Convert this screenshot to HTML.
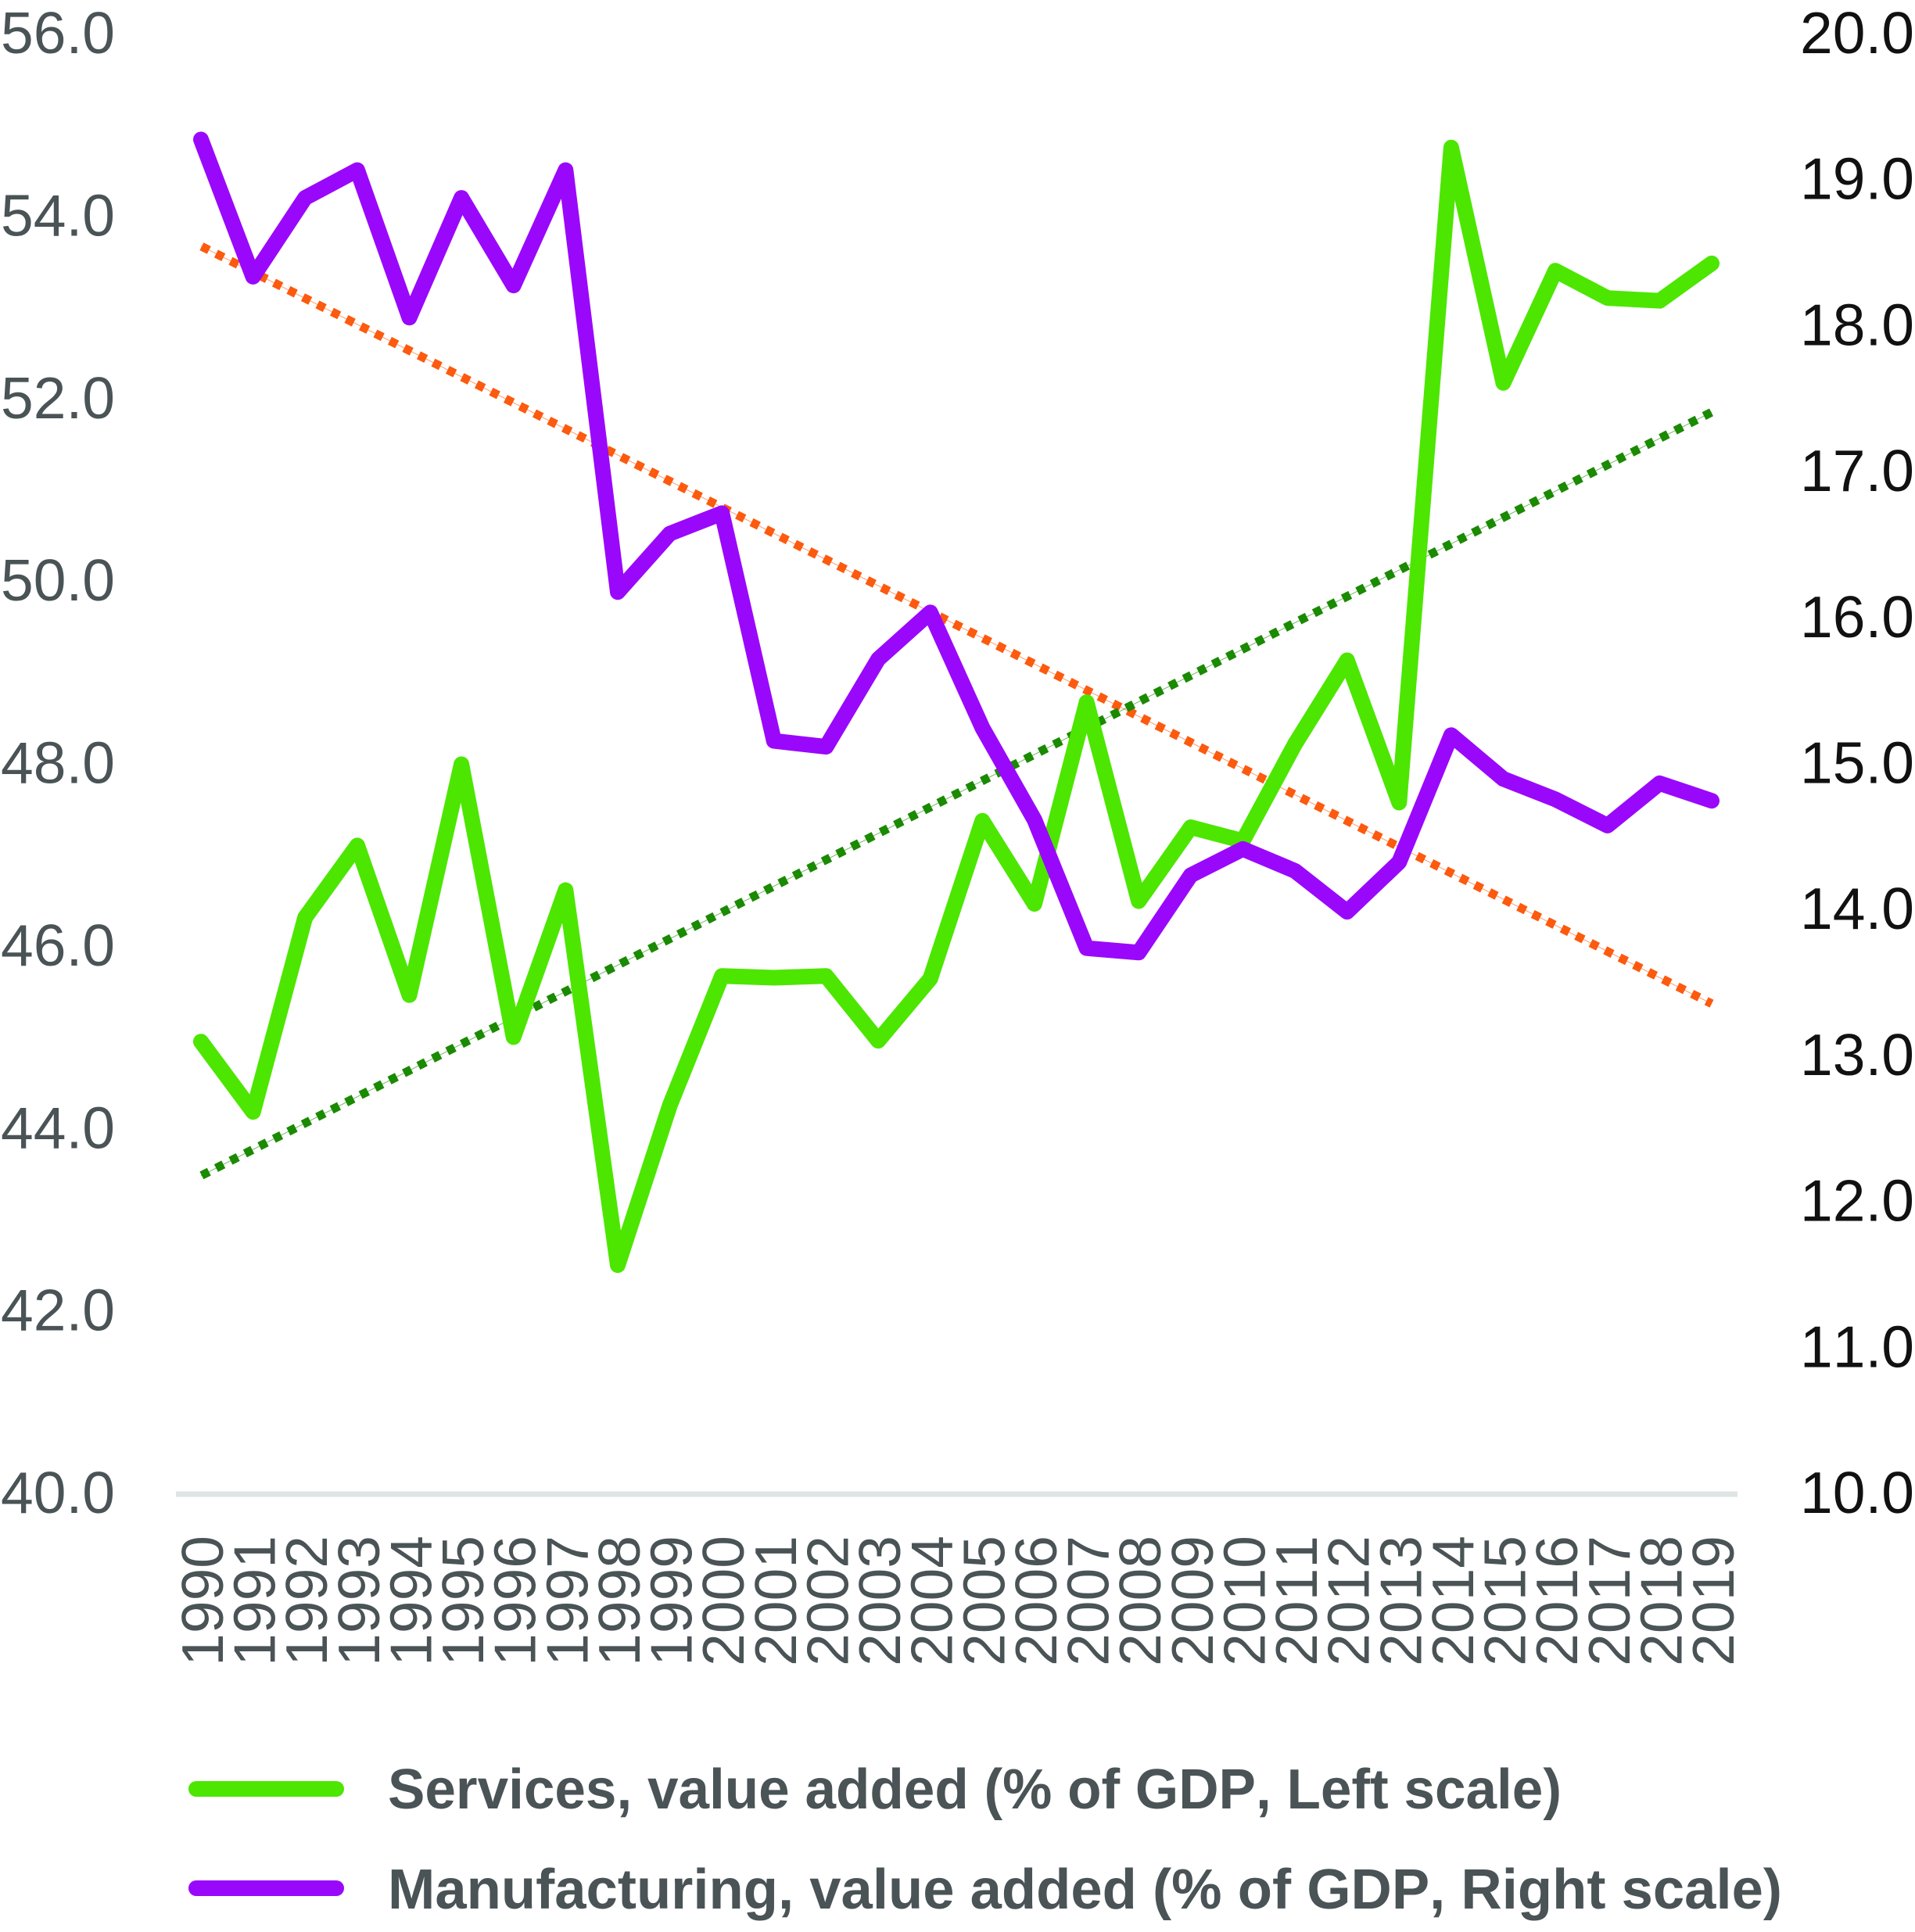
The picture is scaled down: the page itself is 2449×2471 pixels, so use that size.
<!DOCTYPE html>
<html lang="en">
<head>
<meta charset="utf-8">
<title>Services and manufacturing value added</title>
<style>
  html, body { margin: 0; padding: 0; background: #fff; }
  svg { display: block; font-family: "Liberation Sans", sans-serif; font-kerning: none; }
</style>
</head>
<body>
<svg id="chart" xmlns="http://www.w3.org/2000/svg" width="2449" height="2471" viewBox="0 0 2449 2471">
  <rect x="0" y="0" width="2449" height="2471" fill="#ffffff"/>
  <line x1="225" y1="1911" x2="2222" y2="1911" stroke="#dfe5e4" stroke-width="7"/>
  <g id="left-ticks" font-size="75" fill="#4a5356" text-anchor="end"></g>
  <g id="right-ticks" font-size="75" fill="#111111" text-anchor="end"></g>
  <g id="x-ticks" font-size="75" fill="#4a5356" text-anchor="end"></g>
  <g id="marks" fill="none"></g>
  <g>
    <line x1="251" y1="2288" x2="430" y2="2288" stroke="#4ce600" stroke-width="20" stroke-linecap="round"/>
    <text x="496" y="2313" font-size="72" font-weight="700" fill="#4a5356" textLength="1501" lengthAdjust="spacingAndGlyphs">Services, value added (% of GDP, Left scale)</text>
    <line x1="251" y1="2415" x2="430" y2="2415" stroke="#9a08fb" stroke-width="20" stroke-linecap="round"/>
    <text x="496" y="2441" font-size="72" font-weight="700" fill="#4a5356" textLength="1783" lengthAdjust="spacingAndGlyphs">Manufacturing, value added (% of GDP, Right scale)</text>
  </g>
</svg>
<script>
const years = [1990,1991,1992,1993,1994,1995,1996,1997,1998,1999,2000,2001,2002,2003,2004,2005,2006,2007,2008,2009,2010,2011,2012,2013,2014,2015,2016,2017,2018,2019];
const services = [44.96,44.19,46.32,47.11,45.47,48.00,45.01,46.62,42.51,44.26,45.68,45.66,45.68,44.97,45.65,47.38,46.47,48.68,46.50,47.31,47.16,48.22,49.14,47.58,54.76,52.18,53.41,53.11,53.08,53.49];
const manufacturing = [19.28,18.34,18.88,19.07,18.06,18.88,18.28,19.07,16.18,16.58,16.72,15.16,15.12,15.72,16.04,15.25,14.62,13.74,13.71,14.24,14.42,14.27,13.99,14.33,15.20,14.90,14.76,14.58,14.87,14.75];
const servicesTrend = [43.49,51.86];
const manufacturingTrend = [18.55,13.36];
const trendYears = [1990,2019];
const leftTicks = ["40.0","42.0","44.0","46.0","48.0","50.0","52.0","54.0","56.0"];
const rightTicks = ["10.0","11.0","12.0","13.0","14.0","15.0","16.0","17.0","18.0","19.0","20.0"];

const SVG_NS = 'http://www.w3.org/2000/svg';
function xScale(year) { return 257 + (year - 1990) * (2189 - 257) / 29; }
function yLeft(v) { return 1911 - (v - 40) * (1911 - 44) / 16; }
function yRight(v) { return 1911 - (v - 10) * (1911 - 44) / 10; }
function pathFrom(xs, ys, yScale) {
  return xs.map(function (x, i) {
    return (i ? 'L' : 'M') + xScale(x).toFixed(1) + ' ' + yScale(ys[i]).toFixed(1);
  }).join(' ');
}

const marks = document.getElementById('marks');

function addTrend(values, yScale, color, thinName, dotName) {
  const d = pathFrom(trendYears, values, yScale);
  const thin = document.createElementNS(SVG_NS, 'path');
  
  
  thin.setAttribute('d', d);
  thin.setAttribute('stroke', color);
  thin.setAttribute('stroke-width', '1');
  thin.setAttribute('opacity', '0.6');
  marks.appendChild(thin);
  const dots = document.createElementNS(SVG_NS, 'path');
  
  
  dots.setAttribute('d', d);
  dots.setAttribute('stroke', color);
  dots.setAttribute('stroke-width', '11');
  dots.setAttribute('stroke-dasharray', '10.5 10.2');
  dots.setAttribute('stroke-dashoffset', '-1');
  marks.appendChild(dots);
}

function addSeries(values, yScale, color, name) {
  const line = document.createElementNS(SVG_NS, 'path');
  
  
  line.setAttribute('d', pathFrom(years, values, yScale));
  line.setAttribute('stroke', color);
  line.setAttribute('stroke-width', '20');
  line.setAttribute('stroke-linecap', 'round');
  line.setAttribute('stroke-linejoin', 'round');
  marks.appendChild(line);
}

addTrend(manufacturingTrend, yRight, '#fc5a0e', 'manufacturing-trend-thin-line', 'manufacturing-trend-line');
addTrend(servicesTrend, yLeft, '#1a8a00', 'services-trend-thin-line', 'services-trend-line');
addSeries(services, yLeft, '#4ce600', 'services-line');
addSeries(manufacturing, yRight, '#9a08fb', 'manufacturing-line');

const leftGroup = document.getElementById('left-ticks');
leftTicks.forEach(function (label) {
  const t = document.createElementNS(SVG_NS, 'text');
  
  
  t.setAttribute('x', '147');
  t.setAttribute('y', (yLeft(parseFloat(label)) + 24).toFixed(1));
  t.textContent = label;
  leftGroup.appendChild(t);
});

const rightGroup = document.getElementById('right-ticks');
rightTicks.forEach(function (label) {
  const t = document.createElementNS(SVG_NS, 'text');
  
  
  t.setAttribute('x', '2448');
  t.setAttribute('y', (yRight(parseFloat(label)) + 24).toFixed(1));
  t.textContent = label;
  rightGroup.appendChild(t);
});

const xGroup = document.getElementById('x-ticks');
years.forEach(function (year) {
  const t = document.createElementNS(SVG_NS, 'text');
  
  
  t.setAttribute('transform', 'translate(' + (xScale(year) + 28).toFixed(1) + ' 1964) rotate(-90)');
  t.textContent = String(year);
  xGroup.appendChild(t);
});
</script>
</body>
</html>
